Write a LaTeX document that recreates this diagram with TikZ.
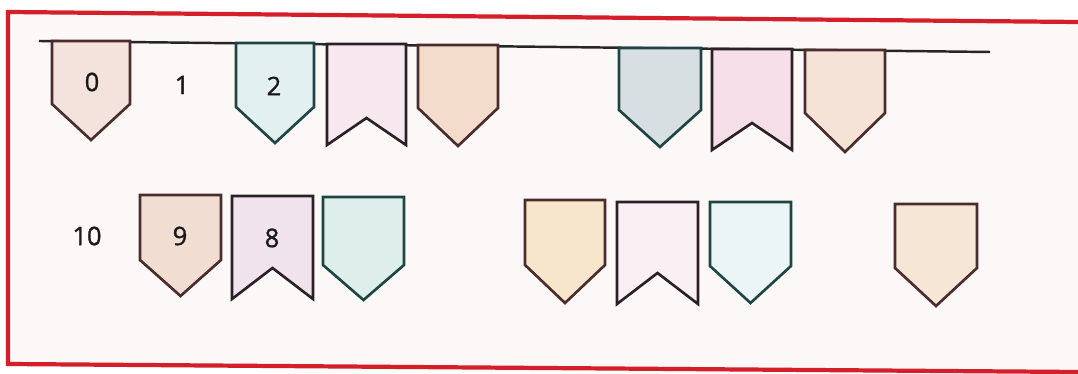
\documentclass[tikz,border=0pt]{standalone}
\usepackage{fontspec}
\setmainfont{Open Sans}
\newfontfamily\numfont[FakeBold=1.2]{Open Sans}
\definecolor{redline}{HTML}{D41E2A}
\definecolor{paper}{HTML}{FDF8F8}
\definecolor{brownln}{HTML}{4A2C2C}
\definecolor{tealln}{HTML}{1F4444}
\definecolor{darkln}{HTML}{2A2026}
\definecolor{cA}{HTML}{F4E2DC}
\definecolor{cB}{HTML}{E2F1F0}
\definecolor{cC}{HTML}{F6E8EE}
\definecolor{cD}{HTML}{F3DCCB}
\definecolor{cE}{HTML}{D8DFE2}
\definecolor{cF}{HTML}{F5DEE7}
\definecolor{cG}{HTML}{F5E3D8}
\definecolor{cH}{HTML}{F2DDD3}
\definecolor{cI}{HTML}{F1E3EC}
\definecolor{cJ}{HTML}{DDEEEB}
\definecolor{cK}{HTML}{F7E6CC}
\definecolor{cL}{HTML}{FAEFF3}
\definecolor{cM}{HTML}{EBF5F5}
\definecolor{cN}{HTML}{F6E6D6}
% left, right, top, side bottom, tip/notch, fill, line colour
\newcommand\flagShape[7]{%
  \filldraw[flagline,draw=#7,fill=#6] (#1,#3) -- (#1,#4) -- ({(#1+#2)/2},#5) -- (#2,#4) -- (#2,#3) -- cycle;}
\begin{document}
\begin{tikzpicture}[x=0.02cm,y=-0.02cm,
  flagline/.style={line width=1.5pt,line join=miter},
  num/.style={font=\numfont\fontsize{14.5}{14.5}\selectfont,text=black!90,inner sep=0pt},
  redbd/.style={draw=redline,line width=2.4pt}]
\useasboundingbox (0,0) rectangle (1078,374);
\fill[white] (0,0) rectangle (1078,374);
\fill[paper] (8,12) -- (1078,22) -- (1078,372) -- (8,364) -- cycle;
\draw[redbd] (1078,22) -- (8,12) -- (8,364) -- (1078,372);
% hanging line
\coordinate (lineL) at (39,41);
\coordinate (lineR) at (990,52);
\draw[line width=1.4pt,black!85] (lineL) -- (lineR);
% top row
\flagShape{52}{130}{41}{104}{140}{cA}{brownln}
\flagShape{236}{314}{43}{107}{143}{cB}{tealln}
\flagShape{327}{406}{44}{145}{118}{cC}{darkln}
\flagShape{418}{498}{45}{108}{146}{cD}{brownln}
\flagShape{619}{701}{48}{110}{147}{cE}{tealln}
\flagShape{712}{792}{49}{150}{123}{cF}{darkln}
\flagShape{805}{885}{50}{113}{152}{cG}{brownln}
\node[num] (n0) at (92,82) {0};
\node[num] (n1) at (182,85) {1};
\node[num] (n2) at (274,86) {2};
% bottom row
\flagShape{140}{221}{195}{260}{296}{cH}{brownln}
\flagShape{232}{313}{196}{299}{268}{cI}{darkln}
\flagShape{323}{404}{197}{265}{300}{cJ}{tealln}
\flagShape{525}{605}{200}{265}{303}{cK}{brownln}
\flagShape{617}{698}{202}{304}{273}{cL}{darkln}
\flagShape{710}{791}{202}{266}{303}{cM}{tealln}
\flagShape{895}{977}{204}{268}{306}{cN}{brownln}
\node[num] (n10) at (87,236) {10};
\node[num] (n9) at (180,236) {9};
\node[num] (n8) at (272,238) {8};
\end{tikzpicture}
\end{document}
